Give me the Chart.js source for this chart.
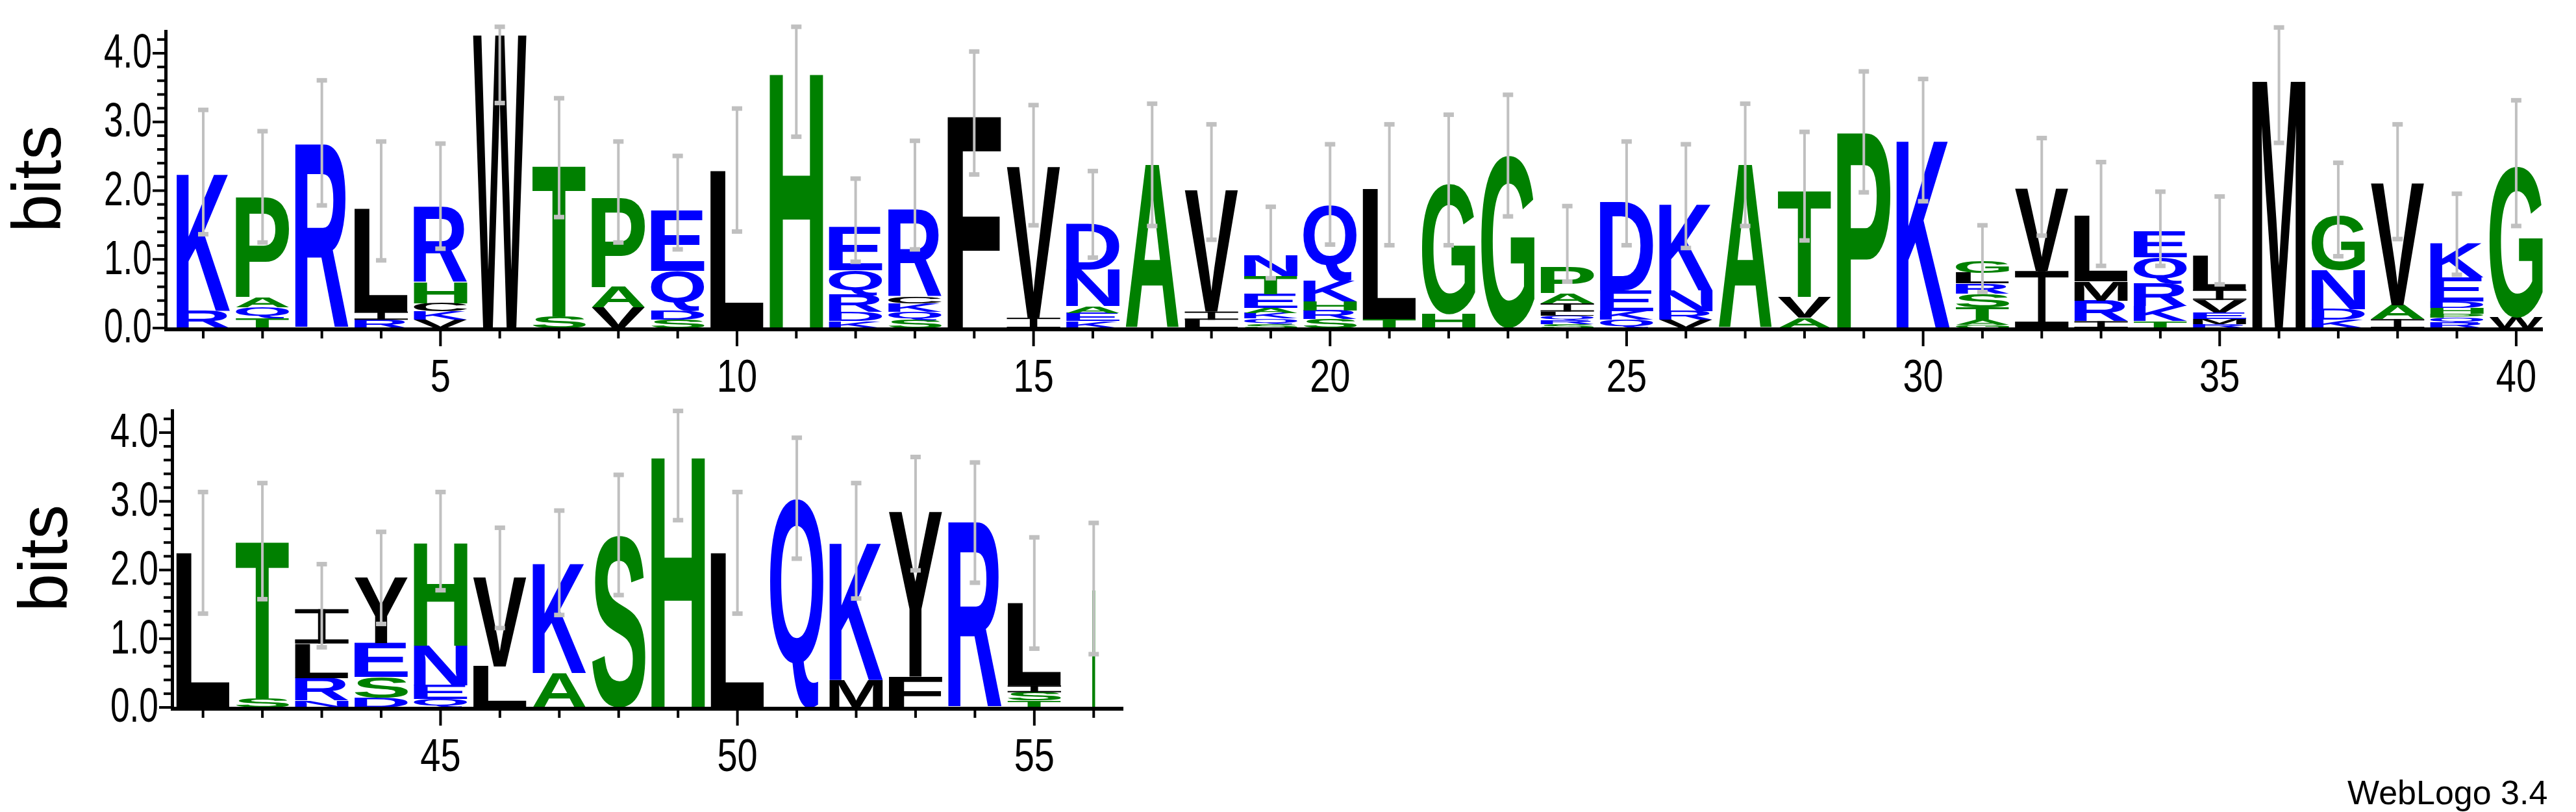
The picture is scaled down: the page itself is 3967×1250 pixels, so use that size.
<!DOCTYPE html>
<html><head><meta charset="utf-8">
<script src="https://cdn.jsdelivr.net/npm/chart.js@4"></script>
<style>html,body{margin:0;padding:0;background:#fff;width:3967px;height:1250px;overflow:hidden}
canvas{position:absolute;left:0}
#wl{position:absolute;left:3615px;top:1190px;font:52px "Liberation Sans",Arial,sans-serif;color:#000}</style>
</head><body>
<div style="position:absolute;left:0;top:0;width:3967px;height:620px"><canvas id="c1"></canvas></div>
<div style="position:absolute;left:0;top:584px;width:3967px;height:620px"><canvas id="c2"></canvas></div>
<div id="wl">WebLogo 3.4</div>
<script>
// positions 1..56; letters listed bottom -> top, heights in bits
const positions = Array.from({length:56},(_,i)=>i+1);
const letters = [
 "RK","TQAP","R","RIL","VKCHR","W","ST","VAP","SDQE","L",
 "H","KDRQE","SQKCR","F","IV","KEAND","A","LIV","SQKAETN","SRHKQ",
 "TL","HG","G","SRQLIAP","QKED","VRNK","A","AVT","P","K",
 "GATSRLG","IV","IRML","TKRQE","RMEVIL","M","KDNG","IAV","RQPHDEK","WG",
 "L","ST","NRLI","DSEY","QENH","LV","AK","S","H","L",
 "Q","MK","FY","R","TSIL","I"];
const heights = [
 [0.25,2.0],[0.15,0.15,0.15,1.47],[2.68],[0.12,0.12,1.5],[0.12,0.12,0.12,0.3,1.1],[4.27],[0.17,2.2],[0.3,0.3,1.3],[0.12,0.13,0.58,0.88],[2.29],
 [3.72],[0.1,0.13,0.25,0.36,0.63],[0.12,0.12,0.12,0.1,1.27],[3.1],[0.15,2.2],[0.1,0.12,0.1,0.53,0.66],[2.38],[0.12,0.12,1.77],[0.06,0.08,0.08,0.07,0.2,0.27,0.3],[0.13,0.13,0.13,0.3,1.1],
 [0.13,1.9],[0.2,1.9],[2.51],[0.06,0.06,0.06,0.06,0.12,0.15,0.38],[0.12,0.13,0.3,1.28],[0.12,0.13,0.3,1.26],[2.38],[0.15,0.3,1.55],[2.86],[2.74],
 [0.05,0.07,0.18,0.2,0.15,0.15,0.17],[0.83,1.2],[0.1,0.3,0.28,0.95],[0.1,0.22,0.33,0.38,0.38],[0.06,0.07,0.1,0.18,0.15,0.5],[3.62],[0.12,0.15,0.57,0.8],[0.13,0.2,1.78],[0.08,0.07,0.06,0.08,0.1,0.35,0.5],[0.15,2.2],
 [2.25],[0.13,2.29],[0.1,0.33,0.5,0.5],[0.14,0.3,0.5,0.95],[0.12,0.2,0.58,1.5],[0.6,1.3],[0.5,1.6],[2.5],[3.66],[2.25],
 [3.05],[0.4,2.0],[0.45,2.4],[2.7],[0.1,0.12,0.1,1.2],[1.72]];
const errLow  = [1.37,1.25,1.79,0.99,1.16,3.28,1.62,1.25,1.15,1.41, 2.79,0.97,1.15,2.24,1.5,1.03,1.49,1.29,0.73,1.22, 1.21,1.21,1.63,0.68,1.21,1.17,1.49,1.28,1.98,1.85, 0.53,1.35,0.91,0.91,0.64,2.7,1.05,1.3,0.78,1.49, 1.37,1.58,0.88,1.22,1.71,1.16,1.35,1.64,2.73,1.37, 2.17,1.59,2.0,1.82,0.86,0.78];
const errHigh = [3.18,2.87,3.61,2.72,2.69,4.39,3.35,2.72,2.51,3.2, 4.39,2.18,2.73,4.03,3.25,2.29,3.27,2.97,1.77,2.68, 2.97,3.11,3.4,1.78,2.72,2.68,3.27,2.86,3.74,3.63, 1.5,2.77,2.42,1.99,1.92,4.38,2.41,2.97,1.96,3.32, 3.14,3.27,2.09,2.56,3.14,2.62,2.87,3.39,4.32,3.14, 3.93,3.27,3.65,3.57,2.48,2.69];
const yTicks = [0,1,2,3,4];
const xTickLabels = [5,10,15,20,25,30,35,40,45,50,55];

const BLUE="#0000ff",GREEN="#008000",BLACK="#000000";
function colorOf(ch,pos){
  if(pos===56) return GREEN;
  if("KRDENQ".includes(ch)) return BLUE;
  if("GSTAPH".includes(ch)) return GREEN;
  return BLACK;
}
const LFONT='"Liberation Sans",Arial,sans-serif';

function narrowText(ctx,txt,x,y,size,align,baseline,sx){
  ctx.save();
  ctx.font=size+'px '+LFONT;
  ctx.textAlign=align;ctx.textBaseline=baseline;ctx.fillStyle='#000';
  ctx.translate(x,y);ctx.scale(sx,1);
  ctx.fillText(txt,0,0);
  ctx.restore();
}

const logoPlugin={id:'logo',
 afterDatasetsDraw(chart){
  const ctx=chart.ctx,xs=chart.scales.x,ys=chart.scales.y,ca=chart.chartArea;
  const [p0,p1]=chart.options.plugins.logo.range;
  const colW=xs.getPixelForValue(2)-xs.getPixelForValue(1);
  ctx.save();
  for(let p=p0;p<=p1;p++){
    const i=p-1, cx=xs.getPixelForValue(p);
    let w=colW*0.9; if(p===56) w=colW*0.05;
    let base=0;
    const L=letters[i],H=heights[i];
    for(let k=0;k<L.length;k++){
      const ch=L[k],h=H[k];
      const yb=ys.getPixelForValue(base),yt=ys.getPixelForValue(base+h);
      base+=h;
      ctx.fillStyle=colorOf(ch,p);
      if(ch==="I" && p!==56){
        const hh=yb-yt,st=Math.max(2,Math.min(hh*0.12,w*0.12));
        ctx.fillRect(cx-w/2,yt,w,st);
        ctx.fillRect(cx-w/2,yb-st,w,st);
        ctx.fillRect(cx-w*0.07,yt,w*0.14,hh);
        continue;
      }
      ctx.save();
      ctx.font='bold 200px '+LFONT;
      const m=ctx.measureText(ch);
      const gw=m.actualBoundingBoxLeft+m.actualBoundingBoxRight;
      const gh=m.actualBoundingBoxAscent+m.actualBoundingBoxDescent;
      ctx.translate(cx-w/2,yt);
      ctx.scale(w/gw,(yb-yt)/gh);
      ctx.fillText(ch,m.actualBoundingBoxLeft,m.actualBoundingBoxAscent);
      ctx.restore();
    }
    const yl=ys.getPixelForValue(errLow[i]),yh=ys.getPixelForValue(errHigh[i]);
    ctx.fillStyle="#c0c0c0";
    ctx.fillRect(cx-2,yh,4,yl-yh);
    ctx.fillRect(cx-8,yh-3,16,7);
    ctx.fillRect(cx-8,yl-3,16,7);
  }
  ctx.fillStyle="#000";
  const x0=ca.left,y0=ca.bottom;
  ctx.fillRect(x0-3,ca.top,5,ca.bottom-ca.top+3);
  ctx.fillRect(x0-3,y0-1,ca.right-x0+3,6);
  for(let v=0;v<=4.21;v+=0.2){
    const y=ys.getPixelForValue(v),maj=Math.abs(v-Math.round(v))<1e-6;
    const len=maj?18:11;
    ctx.fillStyle="#000";
    ctx.fillRect(x0-3-len,y-2,len,4);
  }
  yTicks.forEach(v=>narrowText(ctx,v.toFixed(1),x0-22,ys.getPixelForValue(v)+2,74,'right','middle',0.72));
  for(let p=p0;p<=p1;p++){
    const x=xs.getPixelForValue(p),len=p%5===0?24:12;
    ctx.fillStyle="#000";
    ctx.fillRect(x-2,y0+4,4,len);
    if(xTickLabels.includes(p)) narrowText(ctx,String(p),x,y0+44,70,'center','top',0.8);
  }
  ctx.restore();
 }};

function make(id,range,xmin,xmax,padLeft,padRight){
  const cv=document.getElementById(id);
  cv.width=3967;cv.height=620;cv.style.width='3967px';cv.style.height='620px';
  const data=[];
  for(let p=range[0];p<=range[1];p++){const t=heights[p-1].reduce((a,b)=>a+b,0);data.push({x:p,y:t});}
  return new Chart(cv,{type:'bar',
   data:{datasets:[{data,backgroundColor:'rgba(0,0,0,0)',borderWidth:0,barPercentage:0.9,categoryPercentage:1}]},
   options:{responsive:false,animation:false,devicePixelRatio:1,
    layout:{padding:{left:padLeft-256,right:padRight,top:46,bottom:20}},
    plugins:{legend:{display:false},tooltip:{enabled:false},logo:{range}},
    scales:{
     x:{type:'linear',min:xmin,max:xmax,offset:false,
        grid:{display:false,drawTicks:false},border:{display:false},
        afterFit(s){s.height=95;},
        ticks:{display:false}},
     y:{min:0,max:4.34,grid:{display:false,drawTicks:false},border:{display:false},
        afterFit(s){s.width=256;},
        title:{display:true,text:'bits',color:'#000',font:{size:106,family:LFONT},padding:{top:0,bottom:0}},
        ticks:{display:false}}}},
   plugins:[logoPlugin]});
}
make('c1',[1,40],0.376,40.45,256,51);
make('c2',[41,56],40.49,56.5,266,3967-1730);
</script></body></html>
